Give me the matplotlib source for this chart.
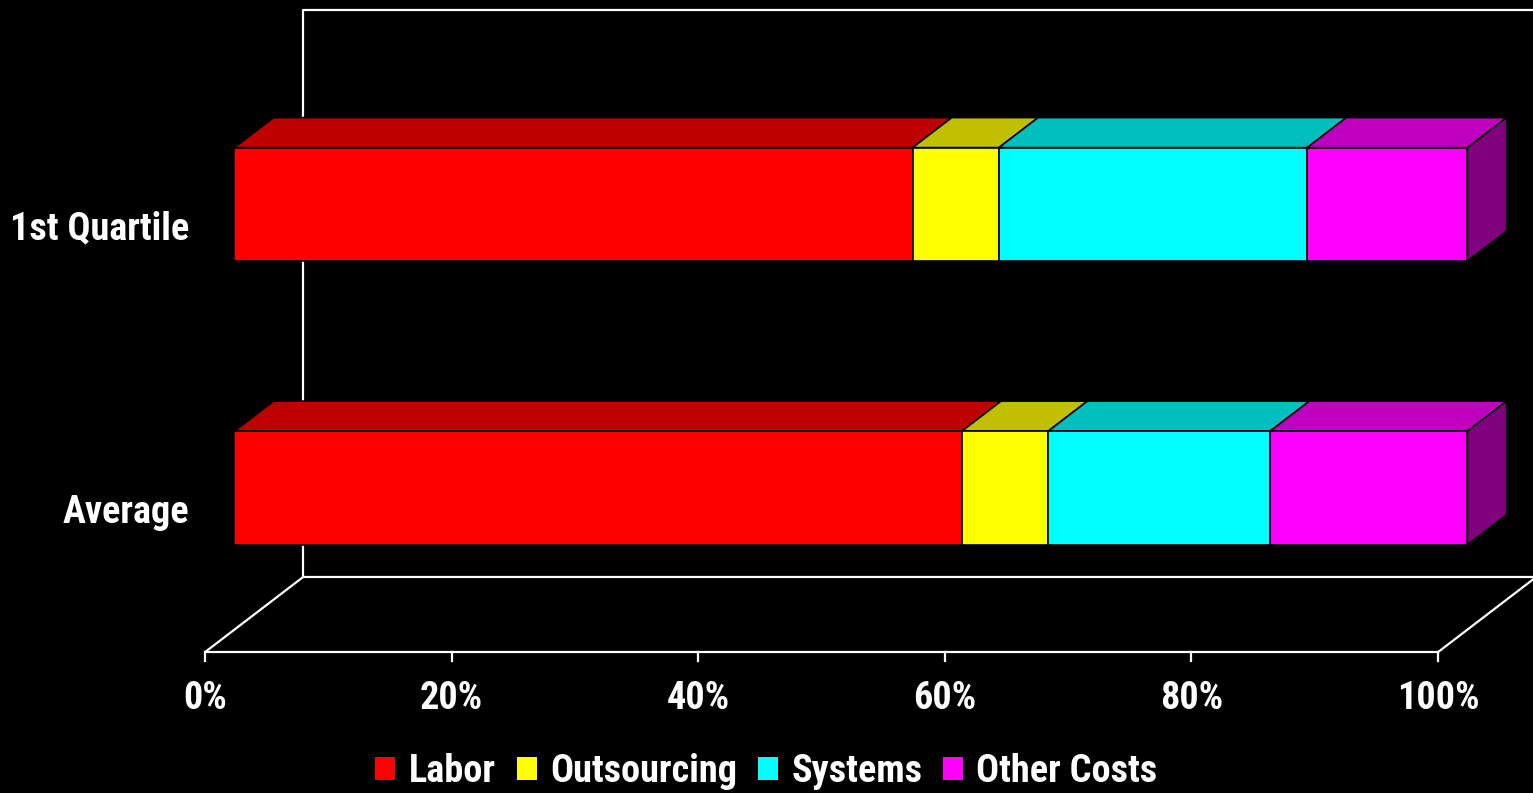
import matplotlib
matplotlib.use("Agg")
import matplotlib.pyplot as plt
from matplotlib.patches import Polygon, Patch

# Cost structure (percent of total)
categories = ["Average", "1st Quartile"]
series = ["Labor", "Outsourcing", "Systems", "Other Costs"]
labor = [59, 55]
outsourcing = [7, 7]
systems = [18, 25]
other_costs = [16, 13]
ticks = [0, 20, 40, 60, 80, 100]
tick_labels = ["0%", "20%", "40%", "60%", "80%", "100%"]

front_colors = ["#FF0000", "#FFFF00", "#00FFFF", "#FF00FF"]
top_colors = ["#C00000", "#C0C000", "#00BFBF", "#C000C0"]
side_colors = ["#800000", "#808000", "#008080", "#800080"]

plt.rcParams["font.family"] = ["Liberation Sans Narrow", "Roboto Condensed", "Liberation Sans", "DejaVu Sans"]
FS = 27.5

fig = plt.figure(figsize=(15.33, 7.93), dpi=100, facecolor="black")
ax = fig.add_axes([0, 0, 1, 1])
ax.set_facecolor("black")
ax.set_xlim(-16.63, 107.70)
ax.set_ylim(-0.997, 1.80)
ax.axis("off")

# oblique projection for the depth axis
DX, DY = 7.95, 0.2646


def proj(x, y, d):
    return (x + d * DX, y + d * DY)


lw_axis = 1.6
ybot, ytop = -0.5, 1.5
# floor and back wall
for pts in [
    [proj(0, ybot, 0), proj(100, ybot, 0)],
    [proj(0, ybot, 0), proj(0, ybot, 1)],
    [proj(0, ybot, 1), proj(100, ybot, 1)],
    [proj(100, ybot, 0), proj(100, ybot, 1)],
    [proj(0, ybot, 1), proj(0, ytop, 1), proj(110, ytop, 1)],
]:
    xs, ys = zip(*pts)
    ax.plot(xs, ys, color="white", lw=lw_axis, zorder=1, solid_capstyle="butt")

# ticks and labels
for t, lab in zip(ticks, tick_labels):
    ax.plot([t, t], [ybot, ybot - 0.03], color="white", lw=lw_axis, zorder=1)
    ax.text(t, ybot - 0.162, lab, color="white", fontsize=FS, fontweight="bold",
            ha="center", va="center")

# 3D stacked bars
values = [labor, outsourcing, systems, other_costs]
bar_h = 0.4
d0, d1 = 0.3, 0.7
for ci, cat in enumerate(categories):
    yc = ci
    yb, yt = yc - bar_h / 2, yc + bar_h / 2
    left = 0
    segs = []
    for si in range(len(series)):
        segs.append((left, left + values[si][ci], si))
        left += values[si][ci]
    for x0, x1, si in segs:
        top = [proj(x0, yt, d0), proj(x1, yt, d0), proj(x1, yt, d1), proj(x0, yt, d1)]
        ax.add_patch(Polygon(top, closed=True, facecolor=top_colors[si],
                             edgecolor="black", lw=1.2, zorder=3))
        front = [proj(x0, yb, d0), proj(x1, yb, d0), proj(x1, yt, d0), proj(x0, yt, d0)]
        ax.add_patch(Polygon(front, closed=True, facecolor=front_colors[si],
                             edgecolor="black", lw=1.2, zorder=4))
    x_end, s_last = segs[-1][1], segs[-1][2]
    side = [proj(x_end, yb, d0), proj(x_end, yb, d1), proj(x_end, yt, d1), proj(x_end, yt, d0)]
    ax.add_patch(Polygon(side, closed=True, facecolor=side_colors[s_last],
                         edgecolor="black", lw=1.2, zorder=3))
    # category label on the front plane
    ax.text(-1.3, yc - 0.006, cat, color="white", fontsize=FS, fontweight="bold",
            ha="right", va="center")

handles = [Patch(facecolor=c, edgecolor="none", label=s) for c, s in zip(front_colors, series)]
fig.legend(handles=handles, loc="center", bbox_to_anchor=(0.5, 0.027), ncol=4,
           frameon=False, labelcolor="white", handlelength=0.52,
           handleheight=0.52, handletextpad=0.35, columnspacing=0.55,
           prop={"weight": "bold", "size": FS})

fig.savefig("out.png", dpi=100, facecolor="black")
